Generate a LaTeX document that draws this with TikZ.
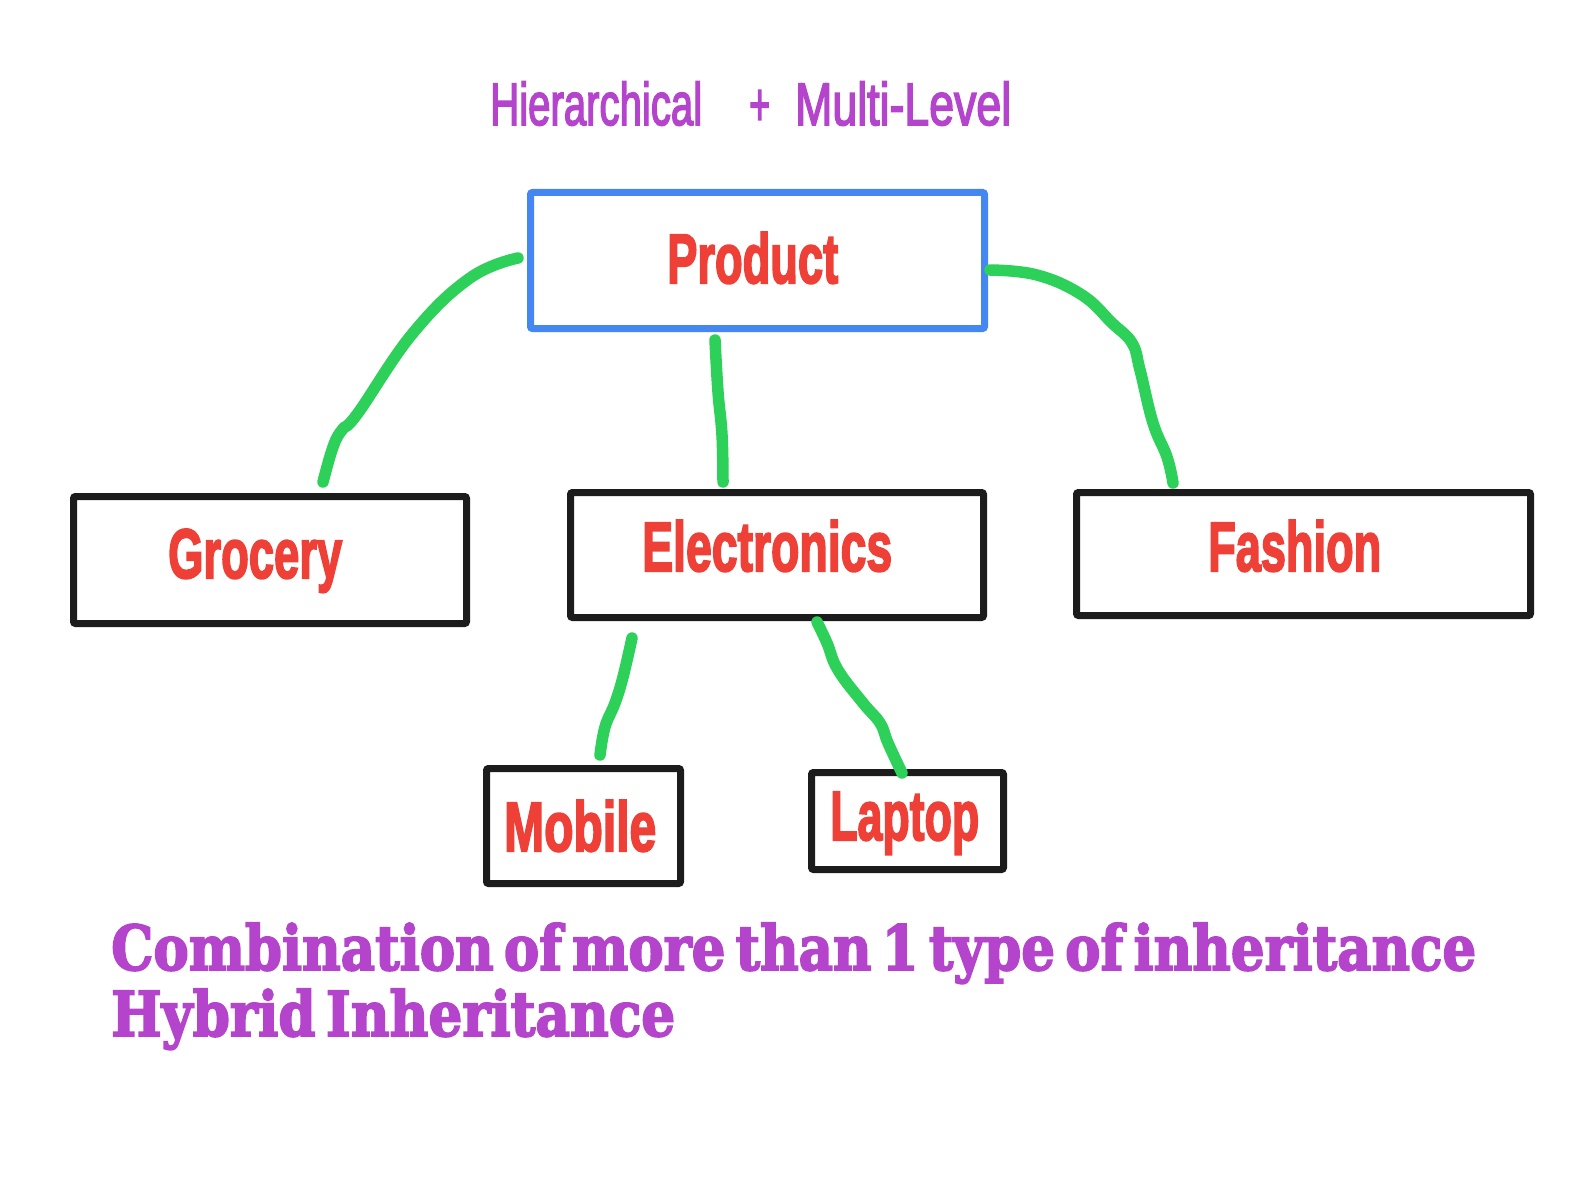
\documentclass[tikz,border=0pt]{standalone}
\usepackage{fontspec}
\usepackage{graphicx}
\setmainfont{Liberation Sans}
\newfontfamily\lblfont{Liberation Sans}[BoldFeatures={FakeBold=3}]
\newfontfamily\titlefont{Liberation Sans}[UprightFeatures={FakeBold=3}]
\newfontfamily\slabfont{DejaVu Serif}[BoldFeatures={FakeBold=3}, WordSpace=0.55]
\usetikzlibrary{calc}
\definecolor{tgreen}{HTML}{2DD058}
\definecolor{tred}{HTML}{EE4036}
\definecolor{tpurple}{HTML}{B444CC}
\definecolor{tblue}{HTML}{4487F2}
\definecolor{tblack}{HTML}{1C1C1C}
\tikzset{
  box/.style={draw=tblack, line width=7pt, rounded corners=2pt, inner sep=0pt, fill=white},
  pbox/.style={box, draw=tblue},
  lbl/.style={text=tred, font=\lblfont\bfseries\fontsize{70}{70}\selectfont, anchor=base west, inner sep=0pt},
  bottomtxt/.style={text=tpurple, font=\slabfont\bfseries\fontsize{62}{62}\selectfont, anchor=base west, inner sep=0pt},
  titletxt/.style={text=tpurple, font=\titlefont\fontsize{60}{60}\selectfont, anchor=base west, inner sep=0pt},
  conn/.style={draw=tgreen, line width=11.5pt, line cap=round, line join=round}
}
\begin{document}
\begin{tikzpicture}[x=1pt,y=-1pt]
\useasboundingbox[fill=white] (0,0) rectangle (1580,1185);

% title
\node[titletxt] (title) at (490,125) {\resizebox{212pt}{\height}{Hierarchical}\hspace{47pt}\resizebox{21pt}{\height}{+}\hspace{25pt}\resizebox{216pt}{\height}{Multi-Level}};

% boxes
\node[pbox, minimum width=454pt, minimum height=136pt] (product) at (757.5,260.5) {};
\node[box, minimum width=393pt, minimum height=127pt] (grocery) at (270,560) {};
\node[box, minimum width=413pt, minimum height=125pt] (electronics) at (777,555) {};
\node[box, minimum width=454pt, minimum height=123pt] (fashion) at (1303.5,554) {};
\node[box, minimum width=194pt, minimum height=115pt] (mobile) at (583.5,826) {};
\node[box, minimum width=192pt, minimum height=97pt] (laptop) at (907.5,821) {};

% labels
\node[lbl] (productlbl) at (667,283) {\resizebox{171pt}{\height}{Product}};
\node[lbl] (grocerylbl) at (168,578) {\resizebox{174pt}{\height}{Grocery}};
\node[lbl] (electronicslbl) at (642,571) {\resizebox{250pt}{\height}{Electronics}};
\node[lbl] (fashionlbl) at (1208,571) {\resizebox{173pt}{\height}{Fashion}};
\node[lbl] (mobilelbl) at (504,851) {\resizebox{152pt}{\height}{Mobile}};
\node[lbl] (laptoplbl) at (830,840) {\resizebox{149pt}{\height}{Laptop}};

% connector end points
\coordinate (pg1) at ($(product.west)+(-9,-2.5)$);
\coordinate (pg2) at ($(grocery.north)+(53,-11)$);
\coordinate (pe1) at ($(product.south)+(-42.5,8)$);
\coordinate (pe2) at ($(electronics.north)+(-54,-7)$);
\coordinate (pf1) at ($(product.east)+(2,9.5)$);
\coordinate (pf2) at ($(fashion.north)+(-130.5,-6)$);
\coordinate (em1) at ($(electronics.south)+(-145,17)$);
\coordinate (em2) at ($(mobile.north)+(16.5,-10)$);
\coordinate (el1) at ($(electronics.south)+(40,1)$);
\coordinate (el2) at ($(laptop.north)+(-5.5,4)$);

% connectors
\draw[conn] plot[smooth, tension=0.7] coordinates {(pg1) (470,278) (413,333) (358,413) (342,430) (333,447) (pg2)};
\draw[conn] plot[smooth, tension=0.7] coordinates {(pe1) (718,392) (722,435) (pe2)};
\draw[conn] plot[smooth, tension=0.7] coordinates {(pf1) (1037,275) (1082,295) (1112,323) (1132,343) (1140,370) (1153,423) (1167,457) (pf2)};
\draw[conn] plot[smooth, tension=0.7] coordinates {(em1) (623,677) (615,703) (605,727) (em2)};
\draw[conn] plot[smooth, tension=0.7] coordinates {(el1) (827,643) (838,670) (863,703) (880,723) (888,743) (el2)};

% bottom text
\node[bottomtxt] (line1) at (111,970) {\resizebox{1365pt}{\height}{Combination of more than 1 type of inheritance}};
\node[bottomtxt] (line2) at (111,1036) {\resizebox{564pt}{\height}{Hybrid Inheritance}};
\end{tikzpicture}
\end{document}
